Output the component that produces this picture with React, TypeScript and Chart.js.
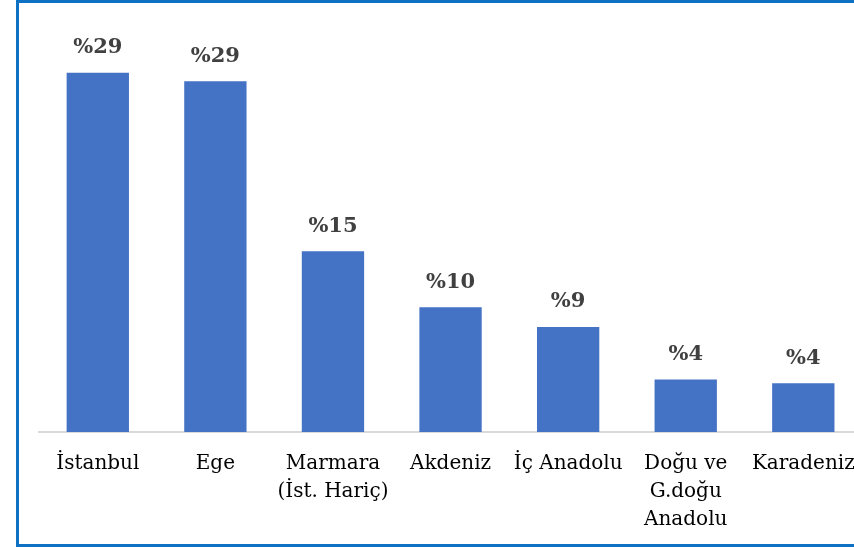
import React, { useEffect, useRef } from "react";
import { Chart, registerables } from "chart.js";

Chart.register(...registerables);

const categories: (string | string[])[] = [
  "İstanbul",
  "Ege",
  ["Marmara", "(İst. Hariç)"],
  "Akdeniz",
  "İç Anadolu",
  ["Doğu ve", "G.doğu", "Anadolu"],
  "Karadeniz",
];
const shares = [29.4, 28.7, 14.8, 10.2, 8.6, 4.3, 4.0];
const shareLabels = ["%29", "%29", "%15", "%10", "%9", "%4", "%4"];

const valueLabelPlugin = {
  id: "valueLabels",
  afterDatasetsDraw(chart: any) {
    const ctx = chart.ctx;
    const meta = chart.getDatasetMeta(0);
    ctx.save();
    ctx.font = "bold 21px 'DejaVu Serif'";
    ctx.fillStyle = "#404040";
    ctx.textAlign = "center";
    ctx.textBaseline = "middle";
    meta.data.forEach((el: any, i: number) => {
      ctx.fillText(shareLabels[i], el.x, el.y - 25);
    });
    ctx.restore();
  },
};

export default function App() {
  const ref = useRef<HTMLCanvasElement>(null);
  useEffect(() => {
    if (!ref.current) return;
    const chart = new Chart(ref.current, {
      type: "bar",
      data: {
        labels: categories,
        datasets: [
          {
            data: shares,
            backgroundColor: "#4472C4",
            barPercentage: 0.53,
            categoryPercentage: 1,
          },
        ],
      },
      options: {
        animation: false,
        responsive: false,
        maintainAspectRatio: false,
        layout: { padding: { left: 39, right: 4, top: 41, bottom: 0 } },
        plugins: { legend: { display: false }, tooltip: { enabled: false } },
        scales: {
          x: {
            grid: { display: false, drawTicks: false },
            border: { display: true, color: "#d9d9d9", width: 2 },
            ticks: {
              color: "#000",
              font: { family: "'DejaVu Serif'", size: 20, lineHeight: 1.4 },
              padding: 18,
              maxRotation: 0,
              autoSkip: false,
            },
            afterFit: (s: any) => {
              s.height = 115;
            },
          },
          y: {
            display: false,
            min: 0,
            max: 32,
          },
        },
      },
      plugins: [valueLabelPlugin],
    });
    return () => chart.destroy();
  }, []);
  return (
    <div
      style={{
        position: "fixed",
        left: 0,
        top: 0,
        width: 854,
        height: 547,
        overflow: "hidden",
        background: "#fff",
      }}
    >
      <canvas
        ref={ref}
        width={873}
        height={547}
        style={{ position: "absolute", left: 0, top: 0, width: 873, height: 547 }}
      />
      <div
        style={{
          position: "absolute",
          left: 16,
          top: 0,
          width: 860,
          height: 547,
          boxSizing: "border-box",
          border: "3px solid #0E71C4",
          pointerEvents: "none",
        }}
      />
    </div>
  );
}
